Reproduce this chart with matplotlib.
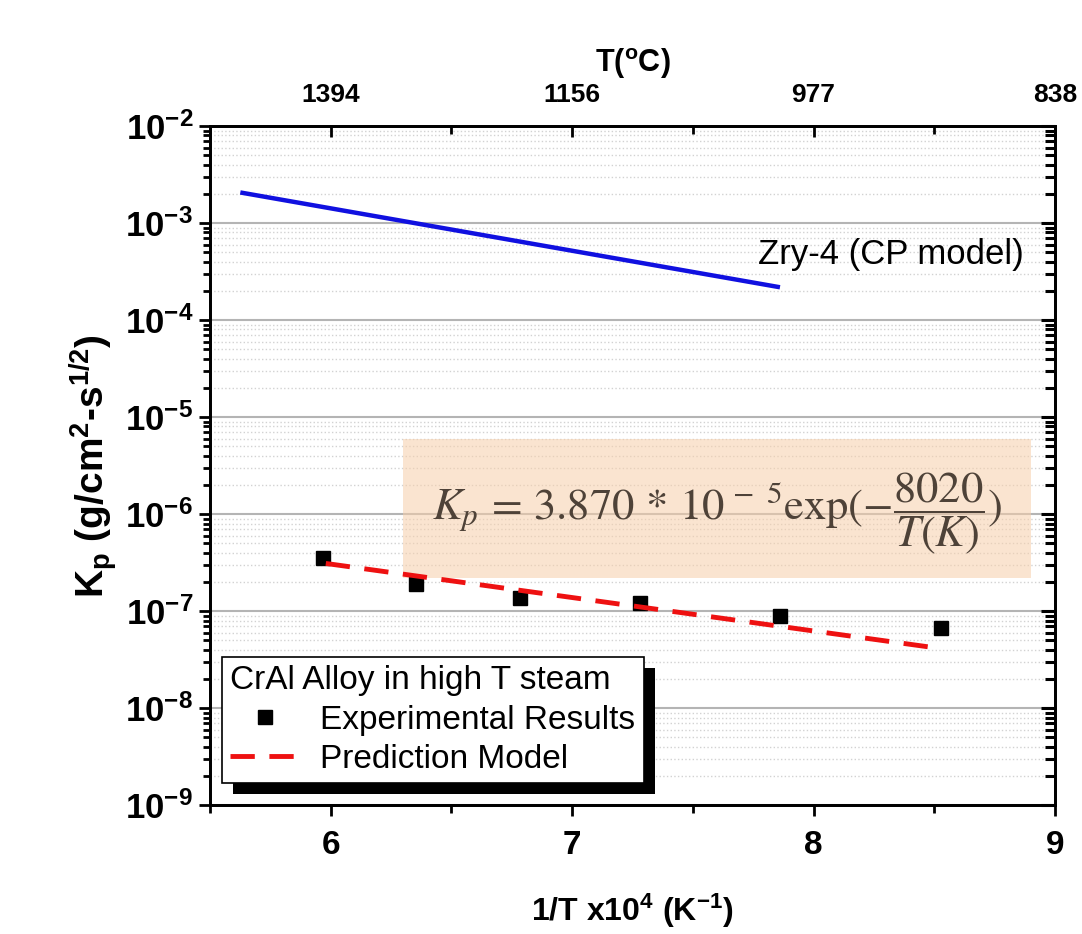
import numpy as np
import matplotlib.pyplot as plt
import matplotlib.patheffects as pe
from matplotlib.ticker import LogLocator, FuncFormatter, NullFormatter, FixedLocator

plt.rcParams['font.family'] = ['Liberation Sans', 'DejaVu Sans']
plt.rcParams['mathtext.fontset'] = 'custom'
plt.rcParams['mathtext.rm'] = 'Liberation Sans'
plt.rcParams['mathtext.bf'] = 'Liberation Sans:bold'
plt.rcParams['mathtext.it'] = 'Liberation Sans:italic'
plt.rcParams['axes.unicode_minus'] = False

# data (x = 1/T x10^4, y = Kp)
zry_x = [5.635, 7.852]
zry_kp = [2.05e-3, 2.2e-4]

exp_x = [5.97, 6.353, 6.786, 7.28, 7.86, 8.53]
exp_kp = [3.5e-7, 1.9e-7, 1.36e-7, 1.21e-7, 8.9e-8, 6.7e-8]

model_x = [5.98, 8.53]
model_kp = [3.1e-7, 4.1e-8]

bottom_ticks = [6, 7, 8, 9]
top_labels = ['1394', '1156', '977', '838']

fig = plt.figure(figsize=(10.82, 9.34), dpi=100)
ax = fig.add_axes([0.194, 0.138, 0.781, 0.727])

ax.set_yscale('log')
ax.set_xlim(5.5, 9)
ax.set_ylim(1e-9, 1e-2)

# grid
ax.yaxis.set_major_locator(LogLocator(base=10, numticks=20))
ax.yaxis.set_minor_locator(LogLocator(base=10, subs=np.arange(2, 10), numticks=20))
ax.yaxis.set_minor_formatter(NullFormatter())
ax.grid(axis='y', which='major', color='#b4b4b4', lw=1.5, zorder=0)
ax.grid(axis='y', which='minor', color='#d2d2d2', lw=1.0, ls=':', zorder=0)
ax.set_axisbelow(True)

# shaded equation box
ax.fill_between([6.30, 8.90], [2.2e-7, 2.2e-7], [5.9e-6, 5.9e-6],
                color='#f7cfaa', alpha=0.55, lw=0, zorder=1)
ax.text(7.6, 1.0e-6,
        r'$K_p\,=\,3.870\,*\,10^{\,-\ 5}\mathrm{exp}(-\dfrac{8020}{T(K)})$',
        fontsize=32, color='#4e4238', ha='center', va='center',
        math_fontfamily='stix', zorder=2)

# series
ax.plot(zry_x, zry_kp, color='#1010e0', lw=3.2, zorder=3)
ax.plot(exp_x, exp_kp, ls='none', marker='s', ms=10, color='black',
        label='Experimental Results', zorder=4)
ax.plot(model_x, model_kp, color='#ee1111', lw=3.5, ls=(0, (5, 3)),
        label='Prediction Model', zorder=5)

ax.text(7.77, 4.7e-4, 'Zry-4 (CP model)', fontsize=25, ha='left', va='center')

# ticks
ax.set_xticks(bottom_ticks)
ax.xaxis.set_minor_locator(FixedLocator([5.5, 6.5, 7.5, 8.5]))
ax.yaxis.set_major_formatter(
    FuncFormatter(lambda v, p: r'$\mathdefault{10^{%d}}$' % round(np.log10(v))))
ax.tick_params(axis='x', which='major', direction='out', length=8, width=2,
               labelsize=24, pad=10)
ax.tick_params(axis='x', which='minor', direction='out', length=6, width=2)
ax.tick_params(axis='y', which='major', direction='out', length=8, width=2,
               labelsize=25, pad=4)
ax.tick_params(axis='y', which='minor', direction='out', length=5, width=2)
for lab in ax.get_xticklabels() + ax.get_yticklabels():
    lab.set_fontweight('bold')
for s in ax.spines.values():
    s.set_linewidth(2)

ax.set_xlabel(r'1/T x10$^\mathbf{4}$ (K$^\mathbf{-1}$)', fontsize=23,
              fontweight='bold', labelpad=22)
ax.set_ylabel(r'K$_\mathbf{p}$ (g/cm$^\mathbf{2}$-s$^\mathbf{1/2}$)', fontsize=28,
              fontweight='bold', labelpad=4)

# top temperature axis (also carries the inward ticks of the right side)
top = ax.twiny()
top.set_xlim(ax.get_xlim())
top.set_xticks(bottom_ticks)
top.set_xticklabels(top_labels, fontsize=19, fontweight='bold')
top.xaxis.set_minor_locator(FixedLocator([6.5, 7.5, 8.5]))
top.tick_params(axis='x', which='major', direction='in', length=8, width=2, pad=14)
top.tick_params(axis='x', which='minor', direction='in', length=6, width=2)
top.set_xlabel(r'T($^\mathbf{o}$C)', fontsize=22, fontweight='bold', labelpad=8)
top.yaxis.set_visible(True)
top.tick_params(axis='y', which='both', left=False, right=True,
                labelleft=False, labelright=False, direction='in', width=2.2,
                color='black')
top.tick_params(axis='y', which='major', length=10)
top.tick_params(axis='y', which='minor', length=7)
top.yaxis.get_label().set_visible(False)
for s in top.spines.values():
    s.set_linewidth(2)

# legend
leg = ax.legend(loc='lower left', bbox_to_anchor=(0.014, 0.032),
                title='CrAl Alloy in high T steam', title_fontsize=24,
                fontsize=24, frameon=True, fancybox=False, edgecolor='black',
                framealpha=1, handlelength=2.1, handletextpad=0.6,
                borderpad=0.25, labelspacing=0.25, borderaxespad=0)
leg._legend_box.align = 'left'
leg.get_frame().set_linewidth(1.2)
leg.get_frame().set_path_effects([
    pe.withSimplePatchShadow(offset=(8, -8), shadow_rgbFace='black', alpha=1.0),
])
leg.set_zorder(10)
leg.remove()
top.add_artist(leg)

fig.savefig('out.png', dpi=100)
